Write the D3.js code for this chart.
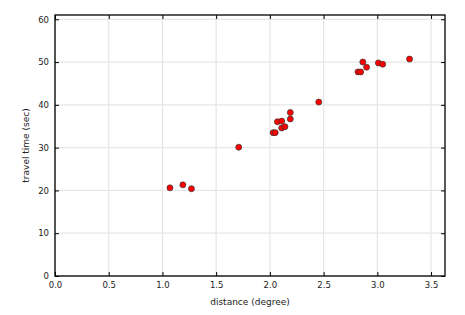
<!DOCTYPE html>
<html>
<head>
<meta charset="utf-8">
<script src="https://cdn.jsdelivr.net/npm/d3@7"></script>
<style>
  body { margin: 0; background: #fff; }
  text { font-family: "DejaVu Sans", sans-serif; }
</style>
</head>
<body>
<div id="chart"></div>
<script>
// data
const distance = [1.07, 1.19, 1.27, 1.71, 2.03, 2.05, 2.07, 2.11, 2.11, 2.14, 2.19, 2.19, 2.455, 2.82, 2.845, 2.865, 2.90, 3.01, 3.05, 3.30];
const travelTime = [20.6, 21.3, 20.4, 30.1, 33.5, 33.5, 36.05, 36.2, 34.6, 34.9, 36.7, 38.2, 40.65, 47.7, 47.7, 50.0, 48.8, 49.8, 49.5, 50.7];
const xTicks = [0.0, 0.5, 1.0, 1.5, 2.0, 2.5, 3.0, 3.5];
const yTicks = [0, 10, 20, 30, 40, 50, 60];

const W = 465, H = 315;
const margin = {top: 15, right: 20, bottom: 39, left: 55};

const svg = d3.select("#chart").append("svg")
    .attr("width", W)
    .attr("height", H);

const width = W - margin.left - margin.right,
    height = H - margin.top - margin.bottom;

const g = svg.append("g")
    .attr("transform", `translate(${margin.left},${margin.top})`);

const x = d3.scaleLinear().domain([0, 3.63]).range([0, width]);
const y = d3.scaleLinear().domain([0, 61]).range([height, 0]);

// grid
g.append("g")
  .selectAll("line")
  .data(xTicks)
  .join("line")
    .attr("x1", d => x(d)).attr("x2", d => x(d))
    .attr("y1", 0).attr("y2", height)
    .style("stroke", "#e6e6e6").style("stroke-width", 1.2);
g.append("g")
  .selectAll("line")
  .data(yTicks)
  .join("line")
    .attr("y1", d => y(d)).attr("y2", d => y(d))
    .attr("x1", 0).attr("x2", width)
    .style("stroke", "#e6e6e6").style("stroke-width", 1.2);

// axes, ticks inward
const xAxis = g.append("g")
    .attr("transform", `translate(0,${height})`)
    .call(d3.axisBottom(x).tickValues(xTicks).tickFormat(d3.format(".1f")).tickSizeInner(-4).tickSizeOuter(0).tickPadding(6));
const xTop = g.append("g")
    .call(d3.axisTop(x).tickValues(xTicks).tickFormat("").tickSizeInner(-4).tickSizeOuter(0));
const yAxis = g.append("g")
    .call(d3.axisLeft(y).tickValues(yTicks).tickSizeInner(-4).tickSizeOuter(0).tickPadding(6));
const yRight = g.append("g")
    .attr("transform", `translate(${width},0)`)
    .call(d3.axisRight(y).tickValues(yTicks).tickFormat("").tickSizeInner(-4).tickSizeOuter(0));

[xAxis, xTop, yAxis, yRight].forEach(a => {
  a.select(".domain").remove();
  a.selectAll("line").style("stroke", "#000");
  a.selectAll("text").style("font-size", "8.5px").style("fill", "#222");
});

// frame
g.append("rect")
    .attr("width", width).attr("height", height)
    .style("fill", "none").style("stroke", "#000").style("stroke-width", 1.3);

// points
g.append("g")
  .selectAll("circle")
  .data(distance.map((d, i) => [d, travelTime[i]]))
  .join("circle")
    .attr("cx", d => x(d[0]))
    .attr("cy", d => y(d[1]))
    .attr("r", 3)
    .style("fill", "red")
    .style("stroke", "#333")
    .style("stroke-width", 0.7);

// labels
svg.append("text")
    .attr("x", margin.left + width / 2)
    .attr("y", H - 10)
    .attr("text-anchor", "middle")
    .style("font-size", "9px")
    .style("fill", "#222")
    .text("distance (degree)");
svg.append("text")
    .attr("transform", `translate(29,${margin.top + height / 2}) rotate(-90)`)
    .attr("text-anchor", "middle")
    .style("font-size", "9px")
    .style("fill", "#222")
    .text("travel time (sec)");
</script>
</body>
</html>
